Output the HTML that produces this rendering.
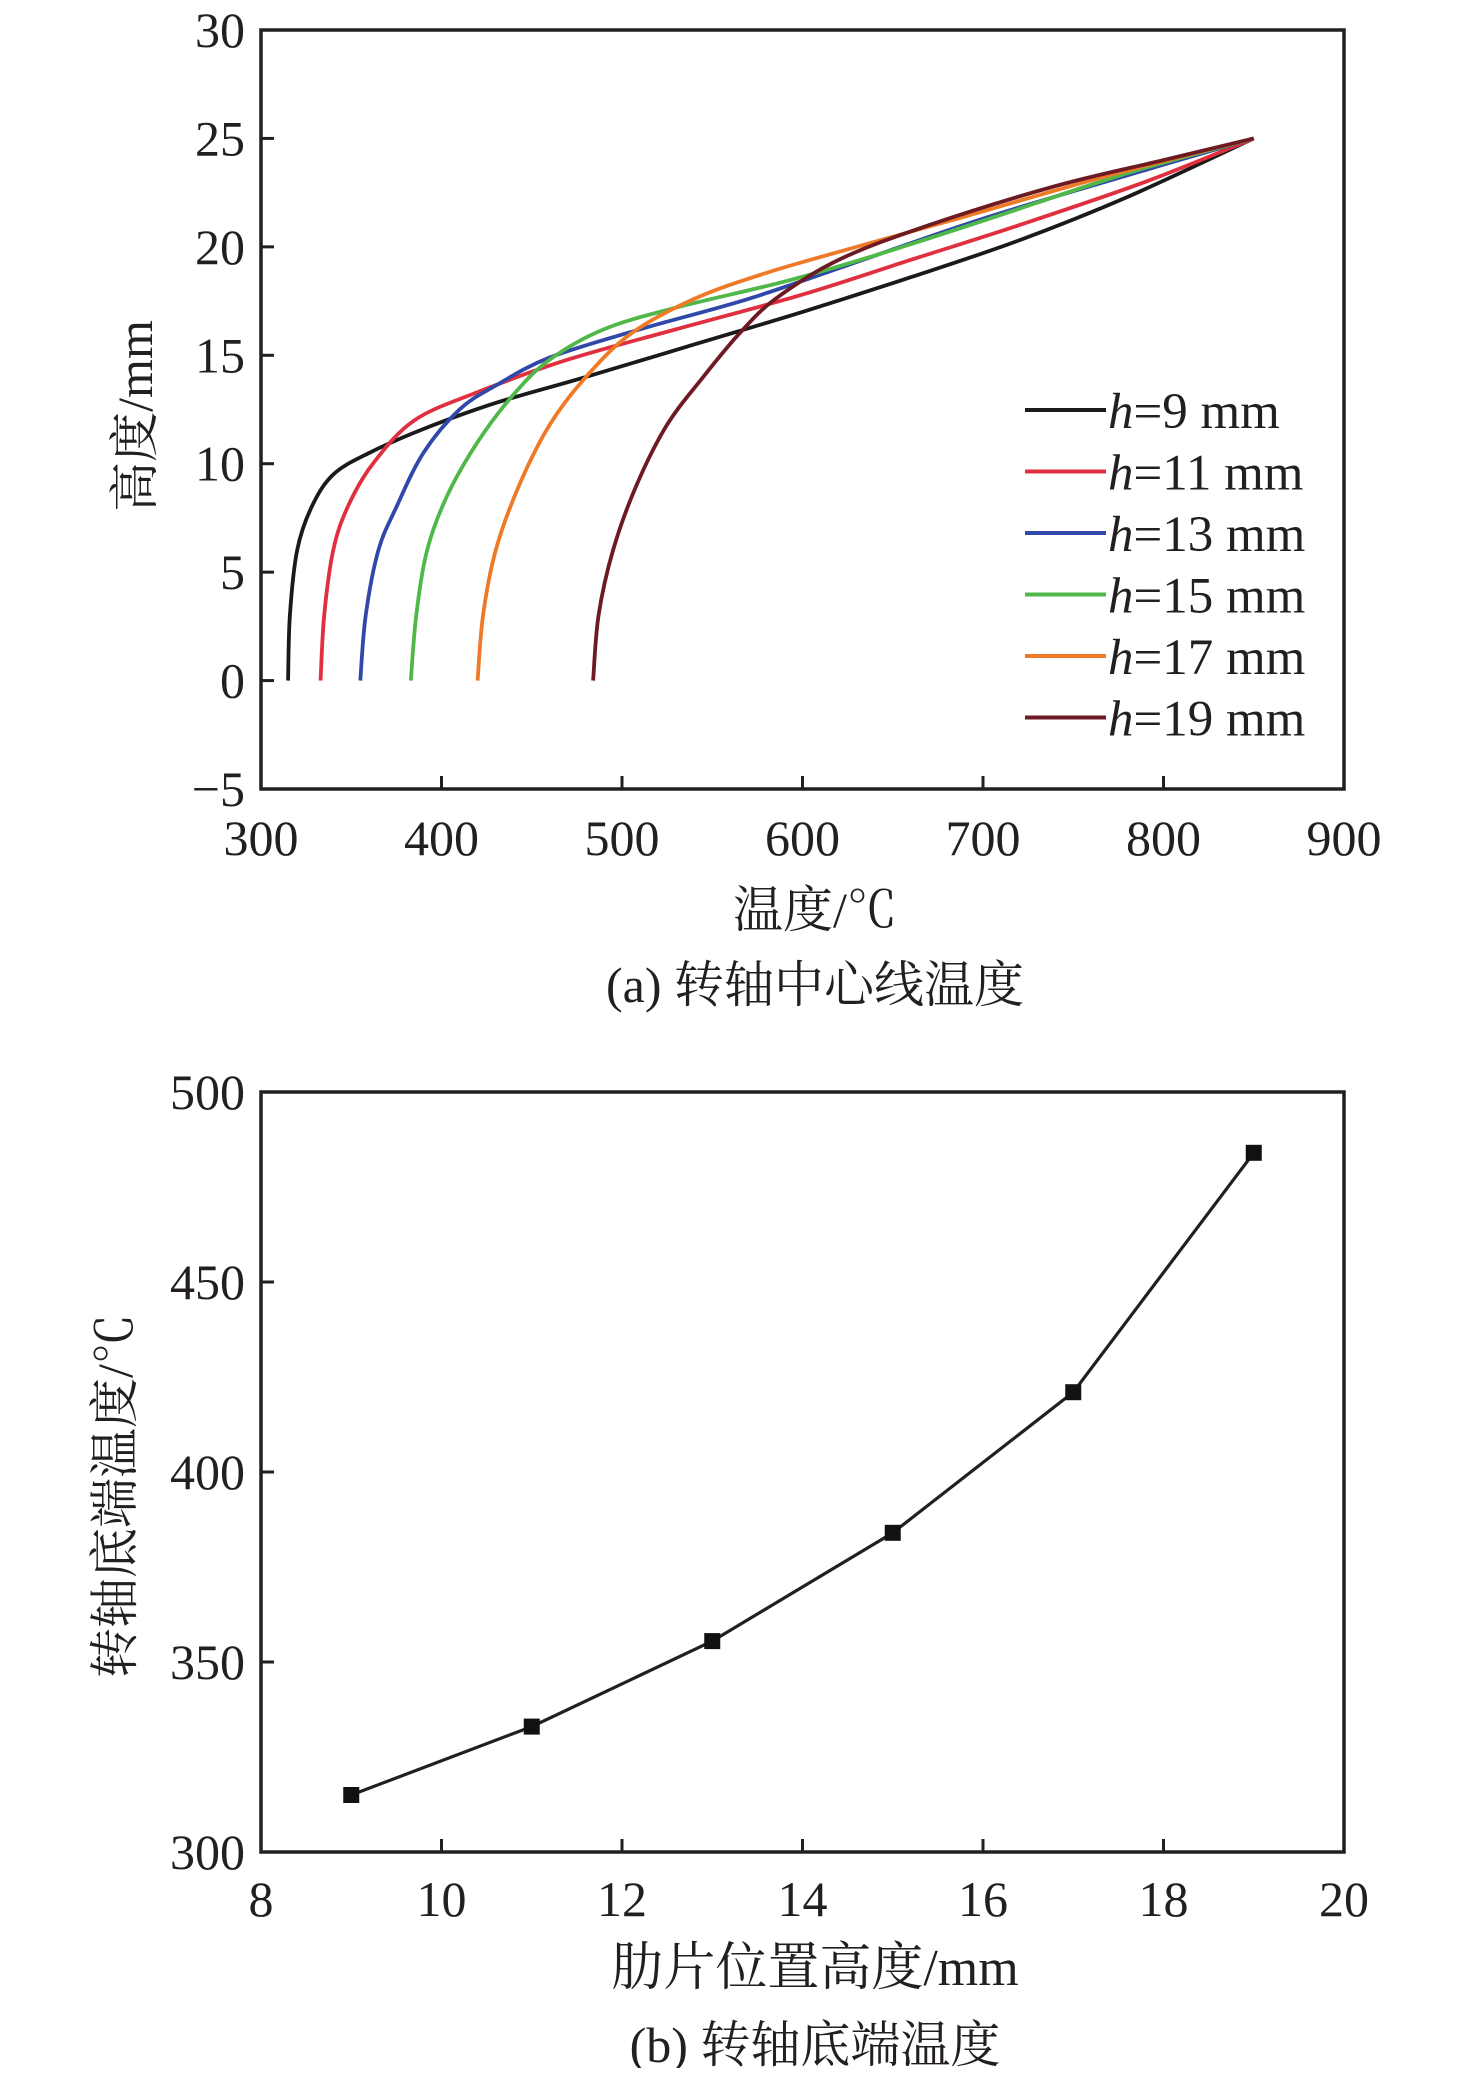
<!DOCTYPE html>
<html><head><meta charset="utf-8"><style>
html,body{margin:0;padding:0;background:#fff;}
svg text{font-family:"Liberation Serif","Noto Serif CJK SC",serif;fill:#231f20;}
</style></head><body>
<svg width="1476" height="2068" viewBox="0 0 1476 2068" xmlns="http://www.w3.org/2000/svg">
<g id="chartA"></g>
<g id="chartB"></g>
</svg>
<script>
const aXTicks=[300,400,500,600,700,800,900];
const aYTicks=[-5,0,5,10,15,20,25,30];
const aLabels=["h=9 mm","h=11 mm","h=13 mm","h=15 mm","h=17 mm","h=19 mm"];
const aColors=["#1a1a1a","#e03040","#3048a8","#50b848","#ee7a28","#6e1a22"];
const s9=[[315,0],[316,3],[320,6],[328,8],[340,9.5],[360,10.5],[390,11.6],[430,12.8],[480,14],[540,15.5],[600,17],[660,18.6],[720,20.3],[780,22.3],[850,25]];
const s11=[[333,0],[335,3],[340,6],[348,8],[362,10],[385,12],[420,13.3],[470,14.8],[530,16.2],[600,17.8],[660,19.4],[720,21],[790,23],[850,25]];
const s13=[[355,0],[358,3],[365,6],[375,8],[390,10.5],[410,12.5],[430,13.6],[460,14.9],[510,16.2],[570,17.6],[630,19.3],[700,21.3],[780,23.3],[850,25]];
const s15=[[383,0],[386,3],[392,6],[403,8.5],[420,11],[440,13.2],[460,14.8],[490,16.2],[530,17.2],[590,18.4],[640,19.6],[700,21.2],[780,23.4],[850,25]];
const s17=[[420,0],[423,3],[430,6],[443,9],[460,11.8],[480,14],[505,16],[540,17.6],[580,18.8],[630,20],[690,21.4],[770,23.3],[850,25]];
const s19=[[484,0],[487,3],[495,6],[508,9],[525,11.8],[545,14],[565,16],[585,17.6],[620,19.4],[670,21],[740,22.8],[800,24],[850,25]];
const aSeries=[s9,s11,s13,s15,s17,s19];

const bX=[9,11,13,15,17,19];
const bY=[315,333,355.5,384,421,484];
const bXTicks=[8,10,12,14,16,18,20];
const bYTicks=[300,350,400,450,500];

const NS="http://www.w3.org/2000/svg";
function mk(parent,tag,attrs,text){const e=document.createElementNS(NS,tag);for(const k in attrs)e.setAttribute(k,attrs[k]);if(text!==undefined)e.textContent=text;parent.appendChild(e);return e;}
const L=261,R=1344;
function smooth(pts){let d="M"+pts[0][0]+","+pts[0][1];for(let i=0;i<pts.length-1;i++){const p0=pts[Math.max(0,i-1)],p1=pts[i],p2=pts[i+1],p3=pts[Math.min(pts.length-1,i+2)];const c1=[p1[0]+(p2[0]-p0[0])/6,p1[1]+(p2[1]-p0[1])/6],c2=[p2[0]-(p3[0]-p1[0])/6,p2[1]-(p3[1]-p1[1])/6];d+=" C"+c1[0]+","+c1[1]+" "+c2[0]+","+c2[1]+" "+p2[0]+","+p2[1];}return d;}

function axes(g,T,B,xt,yt,xs,ys,xlabOff){
  for(const v of xt){const x=xs(v);
    if(v!==xt[0]&&v!==xt[xt.length-1]){const t=mk(g,'line',{x1:x,x2:x,y1:B,y2:B-13,stroke:'#231f20','stroke-width':3});}
    const l=mk(g,'text',{x:x,y:B+xlabOff,'font-size':50,'text-anchor':'middle'},v);}
  for(const v of yt){const y=ys(v);
    if(y>T+2&&y<B-2){const t=mk(g,'line',{x1:L,x2:L+13,y1:y,y2:y,stroke:'#231f20','stroke-width':3});}
    const l=mk(g,'text',{x:L-16,y:y+17,'font-size':50,'text-anchor':'end'},v<0?"\u2212"+(-v):v);}
  const f=mk(g,'rect',{x:L,y:T,width:R-L,height:B-T,fill:'none',stroke:'#231f20','stroke-width':3.5});
}

// Chart A
(function(){
  const g=document.getElementById('chartA');const T=30,B=789;
  const xs=v=>L+(v-300)/600*(R-L), ys=v=>B-(v+5)/35*(B-T);
  axes(g,T,B,aXTicks,aYTicks,xs,ys,66);
  aSeries.forEach((s,i)=>{const p=mk(g,'path',{d:smooth(s.map(q=>[xs(q[0]),ys(q[1])])),fill:'none',stroke:aColors[i],'stroke-width':3.8,'stroke-linejoin':'round'});
    });
  aLabels.forEach((lab,i)=>{const y=410+i*61.5;
    const ln=mk(g,'line',{x1:1025,x2:1106,y1:y,y2:y,stroke:aColors[i],'stroke-width':4});
    const t=mk(g,'text',{x:1108,y:y+18,'font-size':51});
    mk(t,'tspan',{'font-style':'italic'},'h');mk(t,'tspan',{},lab.slice(1));});
  const xl=mk(g,'text',{x:815,y:927,'font-size':50,'text-anchor':'middle'},'温度/℃');
  const yl=mk(g,'text',{x:0,y:0,'font-size':50,'text-anchor':'middle',transform:'translate(152,416) rotate(-90)'},'高度/mm');
  const c=mk(g,'text',{x:815,y:1002,'font-size':50,'text-anchor':'middle'},'(a) 转轴中心线温度');
})();

// Chart B
(function(){
  const g=document.getElementById('chartB');const T=1092,B=1852;
  const xs=v=>L+(v-8)/12*(R-L), ys=v=>B-(v-300)/200*(B-T);
  axes(g,T,B,bXTicks,bYTicks,xs,ys,64);
  const pts=bX.map((x,i)=>xs(x)+","+ys(bY[i])).join(" ");
  const pl=mk(g,'polyline',{points:pts,fill:'none',stroke:'#231f20','stroke-width':3.2});
  bX.forEach((x,i)=>{const r=mk(g,'rect',{x:xs(x)-8,y:ys(bY[i])-8,width:16,height:16,fill:'#111'});});
  const xl=mk(g,'text',{x:815,y:1985,'font-size':52,'text-anchor':'middle'},'肋片位置高度/mm');
  const yl=mk(g,'text',{x:0,y:0,'font-size':50,'text-anchor':'middle',transform:'translate(132,1496) rotate(-90)'},'转轴底端温度/℃');
  const c=mk(g,'text',{x:815,y:2062,'font-size':50,'text-anchor':'middle'},'(b) 转轴底端温度');
})();
</script>
</body></html>
